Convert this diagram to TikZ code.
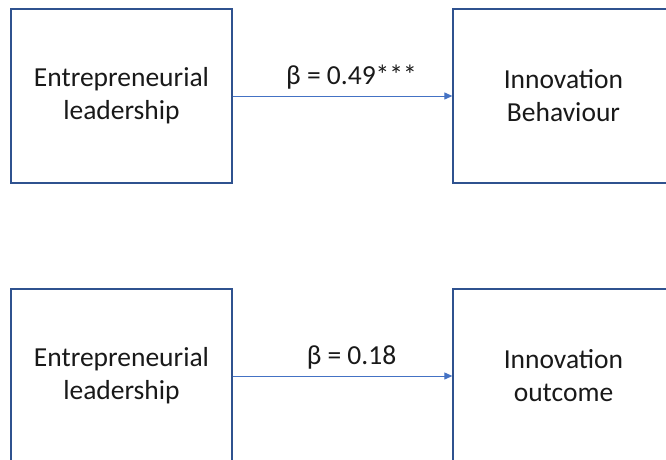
\documentclass[tikz,border=0pt]{standalone}
\usepackage{fontspec}
\setmainfont{Carlito}
\usetikzlibrary{arrows.meta}
\definecolor{boxline}{HTML}{2F528F}
\definecolor{arrowline}{HTML}{4472C4}
\begin{document}
\begin{tikzpicture}[x=1pt,y=-1pt,
  varbox/.style={draw=boxline,line width=1.3pt,minimum width=221pt,minimum height=174pt,
    align=center,font=\fontsize{27.5}{33}\selectfont,text=black!90,inner sep=0pt},
  path/.style={draw=arrowline,line width=1pt,-{Triangle[length=8pt,width=7pt]}},
  coef/.style={font=\fontsize{27.5}{33}\selectfont,text=black!90,xshift=9pt}]
\useasboundingbox (0,0) rectangle (666,460);
\clip (0,0) rectangle (666,460);
% first model
\node[varbox] (el1) at (121.5,96) {Entrepreneurial\\leadership};
\node[varbox] (ib) at (563.5,96) {Innovation\\Behaviour};
\draw[path] (el1.east) -- (ib.west) node[coef,midway,above=3pt] (b1) {β = 0.49***};
% second model
\node[varbox] (el2) at (121.5,376) {Entrepreneurial\\leadership};
\node[varbox] (io) at (563.5,376) {Innovation\\outcome};
\draw[path] (el2.east) -- (io.west) node[coef,midway,above=3pt] (b2) {β = 0.18};
\end{tikzpicture}
\end{document}
